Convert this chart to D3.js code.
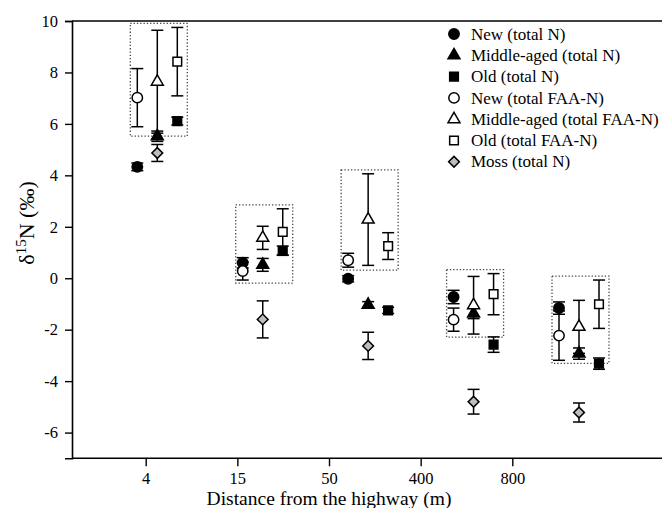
<!DOCTYPE html>
<html>
<head>
<meta charset="utf-8">
<script src="https://cdn.jsdelivr.net/npm/d3@7"></script>
<style>
  body { margin: 0; background: #fff; }
  svg text { font-family: "Liberation Serif", "Times New Roman", serif; fill: #000; }
</style>
</head>
<body>
<svg width="662" height="508"></svg>
<script>
let categories = ["4", "15", "50", "400", "800"];

let newN = [4.33, 0.60, -0.02, -0.73, -1.16];
let newNErr = [0.15, 0.20, 0.12, 0.26, 0.24];
let midN = [5.52, 0.52, -1.03, -1.37, -2.93];
let midNErr = [0.20, 0.25, 0.12, 0.20, 0.22];
let oldN = [6.11, 1.07, -1.25, -2.58, -3.32];
let oldNErr = [0.15, 0.18, 0.12, 0.30, 0.22];
let newFAA = [7.02, 0.28, 0.70, -1.61, -2.23];
let newFAAErr = [1.13, 0.35, 0.27, 0.45, 0.96];
let midFAA = [7.64, 1.57, 2.28, -1.05, -1.89];
let midFAAErr = [2.00, 0.45, 1.78, 1.12, 1.03];
let oldFAA = [8.42, 1.80, 1.25, -0.62, -1.01];
let oldFAAErr = [1.33, 0.90, 0.52, 0.80, 0.94];
let moss = [4.87, -1.60, -2.63, -4.80, -5.22];
let mossErr = [0.33, 0.72, 0.53, 0.48, 0.37];

let yTicks = [-6, -4, -2, 0, 2, 4, 6, 8, 10];

let series = [
    {name: "New (total N)", age: "New", vals: newN, errs: newNErr, shape: d3.symbolCircle, size: 85, fill: "#000"},
    {name: "Middle-aged (total N)", age: "Middle", vals: midN, errs: midNErr, shape: d3.symbolTriangle, size: 62, fill: "#000"},
    {name: "Old (total N)", age: "Old", vals: oldN, errs: oldNErr, shape: d3.symbolSquare, size: 75, fill: "#000"},
    {name: "New (total FAA-N)", age: "New", vals: newFAA, errs: newFAAErr, shape: d3.symbolCircle, size: 85, fill: "#fff", faa: true},
    {name: "Middle-aged (total FAA-N)", age: "Middle", vals: midFAA, errs: midFAAErr, shape: d3.symbolTriangle, size: 62, fill: "#fff", faa: true},
    {name: "Old (total FAA-N)", age: "Old", vals: oldFAA, errs: oldFAAErr, shape: d3.symbolSquare, size: 75, fill: "#fff", faa: true},
    {name: "Moss (total N)", age: "Middle", vals: moss, errs: mossErr, shape: d3.symbolSquare, size: 58, fill: "#bdbdbd", rot: 45}
];

let serif = '"Liberation Serif", "Times New Roman", serif';
let svg = d3.select("svg");

let y = d3.scaleLinear().domain([-7, 10]).range([458.3, 21]);
// axis ticks and plotted groups are not aligned in the original figure
let xTick = d3.scalePoint().domain(categories).range([145.7, 512.3]);
let xData = d3.scalePoint().domain(categories).range([157.3, 579]);
let xOff = d3.scalePoint().domain(["New", "Middle", "Old"]).range([-20, 20]);

// y axis
let yAxis = svg.append("g")
    .attr("transform", "translate(72,0)")
    .attr("font-family", serif)
    .call(d3.axisLeft(y).tickValues(yTicks).tickSize(7).tickPadding(7).tickFormat(d => String(d)));
yAxis.select(".domain").attr("stroke-width", 1.6);
yAxis.selectAll(".tick line").attr("stroke-width", 1.4);
yAxis.selectAll("text").style("font-size", "16.5px").style("font-family", serif);

// x axis
let xAxis = svg.append("g")
    .attr("transform", "translate(0,458.3)")
    .attr("font-family", serif)
    .call(d3.axisBottom(xTick).tickSize(8).tickPadding(6).tickSizeOuter(0));
xAxis.select(".domain").attr("d", "M72,0H662").attr("stroke-width", 1.6);
xAxis.selectAll(".tick line").attr("stroke-width", 1.4);
xAxis.selectAll("text").style("font-size", "16.5px").style("font-family", serif);

svg.append("line")
    .attr("x1", 72).attr("x2", 662)
    .attr("y1", y(10)).attr("y2", y(10))
    .attr("stroke", "#000").attr("stroke-width", 1.6);

// dotted boxes around FAA-N groups
let faaSeries = series.filter(s => s.faa);
categories.forEach((c, i) => {
    let top = d3.min(faaSeries, s => y(s.vals[i] + s.errs[i])) - 4;
    let bot = d3.max(faaSeries, s => y(s.vals[i] - s.errs[i])) + 3;
    let x0 = xData(c) + xOff("New") - 7;
    let x1 = xData(c) + xOff("Old") + 10;
    svg.append("rect")
        .attr("x", x0).attr("y", top)
        .attr("width", x1 - x0).attr("height", bot - top)
        .attr("fill", "none")
        .attr("stroke", "#444")
        .attr("stroke-width", 1.3)
        .attr("stroke-dasharray", "1.3,2");
});

let px = (s, i) => xData(categories[i]) + xOff(s.age);

// error bars
series.forEach(s => {
    let g = svg.append("g").attr("stroke", "#000").attr("stroke-width", 1.5);
    s.vals.forEach((v, i) => {
        let cx = px(s, i);
        let y0 = y(v + s.errs[i]), y1 = y(v - s.errs[i]);
        g.append("line").attr("x1", cx).attr("x2", cx).attr("y1", y0).attr("y2", y1);
        g.append("line").attr("x1", cx - 6).attr("x2", cx + 6).attr("y1", y0).attr("y2", y0);
        g.append("line").attr("x1", cx - 6).attr("x2", cx + 6).attr("y1", y1).attr("y2", y1);
    });
});

// markers
series.forEach(s => {
    let sym = d3.symbol().type(s.shape).size(s.size);
    svg.append("g").selectAll("path")
        .data(s.vals)
        .enter()
        .append("path")
        .attr("d", sym)
        .attr("transform", (v, i) => `translate(${px(s, i)},${y(v)}) rotate(${s.rot || 0})`)
        .attr("fill", s.fill)
        .attr("stroke", "#000")
        .attr("stroke-width", 1.5);
});

// legend
let legend = svg.append("g").attr("transform", "translate(454,34)");
series.forEach((s, i) => {
    let row = legend.append("g").attr("transform", `translate(0,${i * 21.3})`);
    row.append("path")
        .attr("d", d3.symbol().type(s.shape).size(s.size)())
        .attr("transform", `rotate(${s.rot || 0})`)
        .attr("fill", s.fill)
        .attr("stroke", "#000")
        .attr("stroke-width", 1.5);
    row.append("text")
        .attr("x", 17)
        .attr("dy", "0.33em")
        .style("font-family", serif)
        .style("font-size", "17px")
        .text(s.name);
});

// axis titles
svg.append("text")
    .attr("x", 329)
    .attr("y", 505)
    .attr("text-anchor", "middle")
    .style("font-family", serif)
    .style("font-size", "19.5px")
    .text("Distance from the highway (m)");

let yTitle = svg.append("text")
    .attr("transform", "translate(34,223) rotate(-90)")
    .attr("text-anchor", "middle")
    .style("font-family", serif)
    .style("font-size", "22px");
yTitle.append("tspan").text("δ");
yTitle.append("tspan").attr("dy", -8).style("font-size", "15px").text("15");
yTitle.append("tspan").attr("dy", 8).text("N (‰)");
</script>
</body>
</html>
